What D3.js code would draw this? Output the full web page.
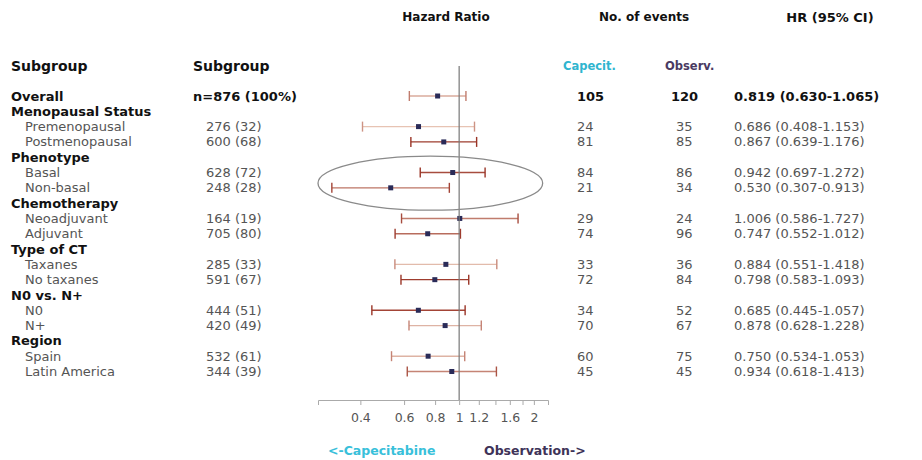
<!DOCTYPE html>
<html>
<head>
<meta charset="utf-8">
<script src="https://cdn.jsdelivr.net/npm/d3@7"></script>
<style>
  body { margin: 0; background: #fff; }
  svg text { font-family: "DejaVu Sans", Verdana, sans-serif; }
</style>
</head>
<body>
<div id="chart"></div>
<script>
// rows of the forest plot, top to bottom
var rowLabels = ["Overall", "Menopausal Status", "Premenopausal", "Postmenopausal",
  "Phenotype", "Basal", "Non-basal", "Chemotherapy", "Neoadjuvant", "Adjuvant",
  "Type of CT", "Taxanes", "No taxanes", "N0 vs. N+", "N0", "N+",
  "Region", "Spain", "Latin America"];
var rowKinds = ["overall", "group", "sub", "sub", "group", "sub", "sub", "group", "sub", "sub",
  "group", "sub", "sub", "group", "sub", "sub", "group", "sub", "sub"];
var nPatients = ["n=876 (100%)", "", "276 (32)", "600 (68)", "", "628 (72)", "248 (28)", "",
  "164 (19)", "705 (80)", "", "285 (33)", "591 (67)", "", "444 (51)", "420 (49)", "",
  "532 (61)", "344 (39)"];
var capecitEvents = [105, null, 24, 81, null, 84, 21, null, 29, 74, null, 33, 72, null, 34, 70, null, 60, 45];
var observEvents = [120, null, 35, 85, null, 86, 34, null, 24, 96, null, 36, 84, null, 52, 67, null, 75, 45];
var hazard = [0.819, null, 0.686, 0.867, null, 0.942, 0.530, null, 1.006, 0.747, null, 0.884, 0.798, null, 0.685, 0.878, null, 0.750, 0.934];
var ciLow = [0.630, null, 0.408, 0.639, null, 0.697, 0.307, null, 0.586, 0.552, null, 0.551, 0.583, null, 0.445, 0.628, null, 0.534, 0.618];
var ciHigh = [1.065, null, 1.153, 1.176, null, 1.272, 0.913, null, 1.727, 1.012, null, 1.418, 1.093, null, 1.057, 1.228, null, 1.053, 1.413];

var tickValues = [0.4, 0.6, 0.8, 1, 1.2, 1.4, 1.6, 1.8, 2];
var tickLabels = ["0.4", "0.6", "0.8", "1", "1.2", "", "1.6", "", "2"];

// highlighted rows (Basal / Non-basal) and the HR span of the ellipse
var ellipseRows = [5, 6];
var ellipseSpan = [0.27, 2.17];

// shade of each CI line (0 = light peach, 1 = dark brown)
var ciTone = [0.25, 0, 0.1, 0.95, 0, 0.85, 0.6, 0, 0.55, 0.65, 0, 0.15, 0.95, 0, 0.9, 0.2, 0, 0.2, 0.5];

var width = 922, height = 460;

var svg = d3.select("#chart").append("svg")
  .attr("width", width)
  .attr("height", height);

var x = d3.scaleLog().domain([0.27, 2.28]).range([318, 548]);
var y = d3.scaleLinear().domain([0, rowLabels.length - 1]).range([96, 371.5]);
var shade = d3.interpolateRgb("#efd3c3", "#9a3426");

// column headers
function header(txt, px, py, size, color, anchor) {
  svg.append("text")
    .attr("x", px).attr("y", py).attr("dy", "0.35em")
    .attr("text-anchor", anchor || "start")
    .style("font-size", size + "px")
    .style("font-weight", "bold")
    .attr("fill", color)
    .text(txt);
}
header("Hazard Ratio", 446, 17, 12, "#111", "middle");
header("No. of events", 644, 17, 12, "#111", "middle");
header("HR (95% CI)", 830, 17, 13, "#111", "middle");
header("Capecit.", 563, 66, 11.5, "#2fb5cf");
header("Observ.", 665, 66, 11.5, "#4a3a62");
header("Subgroup", 11, 66, 14, "#111");
header("Subgroup", 193, 66, 14, "#111");

// table text
var rows = svg.append("g").selectAll("g")
  .data(rowLabels.map(function(d, i) { return i; }))
  .enter().append("g")
  .attr("transform", function(i) { return "translate(0," + y(i) + ")"; });

function cell(sel, px, fn) {
  sel.append("text")
    .attr("x", px)
    .attr("dy", "0.35em")
    .style("font-size", "13px")
    .style("font-weight", function(i) { return rowKinds[i] == "sub" ? "normal" : "bold"; })
    .attr("fill", function(i) { return rowKinds[i] == "sub" ? "#555" : "#111"; })
    .text(fn);
}

cell(rows, function(i) { return rowKinds[i] == "sub" ? 25 : 11; }, function(i) { return rowLabels[i]; });
cell(rows, function(i) { return rowKinds[i] == "overall" ? 193 : 206; }, function(i) { return nPatients[i]; });

var dataRows = rows.filter(function(i) { return hazard[i] != null; });

cell(dataRows, 577, function(i) { return capecitEvents[i]; });
cell(dataRows, function(i) { return rowKinds[i] == "overall" ? 671 : 676; }, function(i) { return observEvents[i]; });
cell(dataRows, 734, function(i) {
  return hazard[i].toFixed(3) + " (" + ciLow[i].toFixed(3) + "-" + ciHigh[i].toFixed(3) + ")";
});

// x axis
var axis = svg.append("g")
  .attr("transform", "translate(0,400)")
  .call(d3.axisBottom(x).tickValues(tickValues).tickSize(5).tickPadding(8)
    .tickFormat(function(d, i) { return tickLabels[i]; }));
axis.select(".domain").attr("stroke", "#aaa");
axis.selectAll(".tick line").attr("stroke", "#aaa");
axis.selectAll("text")
  .style("font-size", "12.5px")
  .style("font-family", "DejaVu Sans, Verdana, sans-serif")
  .attr("fill", "#555");

// confidence intervals
dataRows.append("line")
  .attr("x1", function(i) { return x(ciLow[i]); })
  .attr("x2", function(i) { return x(ciHigh[i]); })
  .attr("stroke", function(i) { return shade(ciTone[i]); })
  .attr("stroke-width", 1.4);

[ciLow, ciHigh].forEach(function(arr) {
  dataRows.append("line")
    .attr("x1", function(i) { return x(arr[i]); })
    .attr("x2", function(i) { return x(arr[i]); })
    .attr("y1", -5).attr("y2", 5)
    .attr("stroke", function(i) { return shade(Math.min(1, ciTone[i] + 0.3)); })
    .attr("stroke-width", 1.4);
});

// reference line at HR = 1
svg.append("line")
  .attr("x1", x(1)).attr("x2", x(1))
  .attr("y1", 66).attr("y2", 400)
  .attr("stroke", "#777")
  .attr("stroke-width", 1.2);

// point estimates
dataRows.append("rect")
  .attr("x", function(i) { return x(hazard[i]) - 2.5; })
  .attr("y", -2.5)
  .attr("width", 5).attr("height", 5)
  .attr("fill", "#2a2b58");

// ellipse around the phenotype rows
var e0 = x(ellipseSpan[0]), e1 = x(ellipseSpan[1]);
svg.append("ellipse")
  .attr("cx", (e0 + e1) / 2)
  .attr("cy", (y(ellipseRows[0]) + y(ellipseRows[1])) / 2 + 3)
  .attr("rx", (e1 - e0) / 2)
  .attr("ry", 27)
  .attr("fill", "none")
  .attr("stroke", "#8a8a8a")
  .attr("stroke-width", 1.3);

// direction labels
svg.append("text").attr("x", 328).attr("y", 451).attr("dy", "0.35em")
  .style("font-size", "12.5px").style("font-weight", "bold").attr("fill", "#38c0da")
  .text("<-Capecitabine");
svg.append("text").attr("x", 484).attr("y", 451).attr("dy", "0.35em")
  .style("font-size", "12.5px").style("font-weight", "bold").attr("fill", "#3e3358")
  .text("Observation->");
</script>
</body>
</html>
